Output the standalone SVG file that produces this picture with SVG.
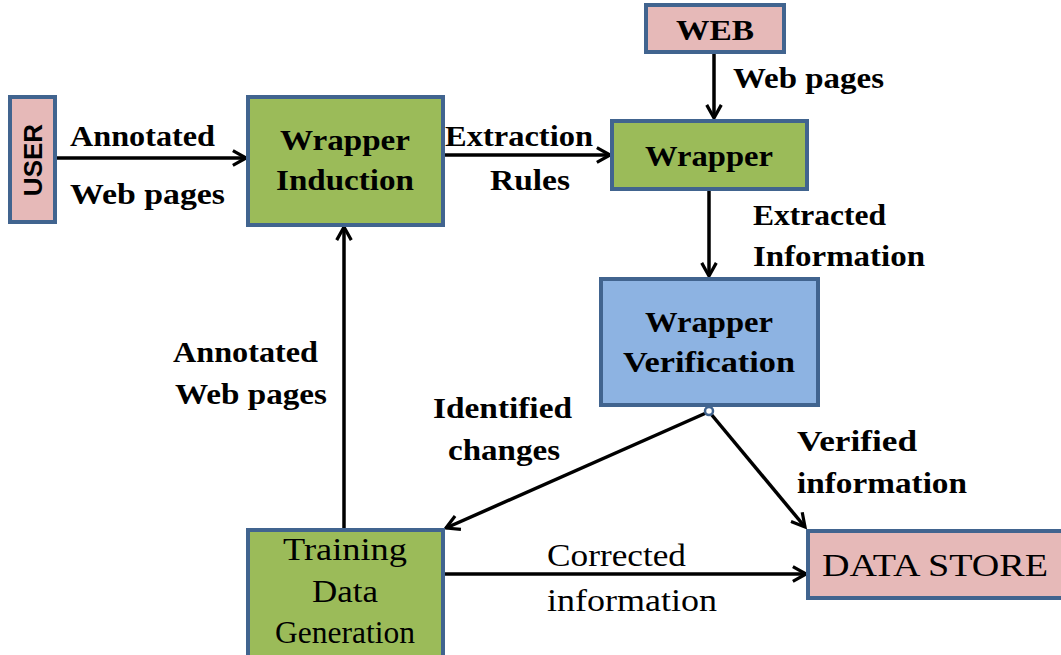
<svg xmlns="http://www.w3.org/2000/svg" width="1061" height="655" viewBox="0 0 1061 655">
<defs>
<style>
.box{stroke:#41648F;stroke-width:4}
.pink{fill:#E6B9B8}
.green{fill:#9BBB59}
.blue{fill:#8DB3E2}
.t{font-family:"Liberation Serif",serif;font-weight:bold;font-size:30px;fill:#000}
.tc{text-anchor:middle}
.n{font-weight:normal;font-size:32px}
.c{stroke:#000;stroke-width:3.5;fill:none;marker-end:url(#ah)}
</style>
<marker id="ah" viewBox="0 0 12 12" refX="10" refY="6" markerWidth="5" markerHeight="5" orient="auto" markerUnits="strokeWidth">
<path d="M1,1 L10,6 L1,11" fill="none" stroke="#000" stroke-width="2.2" stroke-linejoin="miter"/>
</marker>
</defs>
<rect width="1061" height="655" fill="#fff"/>
<g id="connectors">
<line class="c" x1="55" y1="158" x2="246" y2="158"/>
<line class="c" x1="443" y1="155" x2="610" y2="155"/>
<line class="c" x1="714" y1="52" x2="714" y2="118"/>
<line class="c" x1="709" y1="189" x2="709" y2="276"/>
<line class="c" x1="706" y1="413" x2="446" y2="528"/>
<line class="c" x1="711" y1="414" x2="805" y2="527"/>
<line class="c" x1="344" y1="529" x2="344" y2="227"/>
<line class="c" x1="443" y1="574" x2="806" y2="574"/>
<circle cx="709" cy="411" r="4" fill="#fff" stroke="#41648F" stroke-width="2.5"/>
</g>
<g id="user">
<rect class="box pink" x="10" y="97" width="45" height="125"/>
<text x="0" y="0" transform="translate(42,160) rotate(-90)" style="font-family:'Liberation Sans',sans-serif;font-weight:bold;font-size:26px;text-anchor:middle">USER</text>
</g>
<g id="wrapper-induction">
<rect class="box green" x="248" y="97" width="195" height="128"/>
<text class="t tc" x="345" y="150" textLength="130" lengthAdjust="spacingAndGlyphs">Wrapper</text>
<text class="t tc" x="345" y="190" textLength="138" lengthAdjust="spacingAndGlyphs">Induction</text>
</g>
<g id="web">
<rect class="box pink" x="646" y="5" width="138" height="47"/>
<text class="t tc" x="715" y="40" textLength="78" lengthAdjust="spacingAndGlyphs">WEB</text>
</g>
<g id="wrapper">
<rect class="box green" x="612" y="121" width="195" height="68"/>
<text class="t tc" x="709" y="166" textLength="128" lengthAdjust="spacingAndGlyphs">Wrapper</text>
</g>
<g id="wrapper-verification">
<rect class="box blue" x="601" y="279" width="217" height="126"/>
<text class="t tc" x="709" y="332" textLength="128" lengthAdjust="spacingAndGlyphs">Wrapper</text>
<text class="t tc" x="709" y="372" textLength="172" lengthAdjust="spacingAndGlyphs">Verification</text>
</g>
<g id="training-data-generation">
<rect class="box green" x="248" y="530" width="195" height="130"/>
<text class="t tc n" x="345" y="560" textLength="124" lengthAdjust="spacingAndGlyphs">Training</text>
<text class="t tc n" x="345" y="602" textLength="66" lengthAdjust="spacingAndGlyphs">Data</text>
<text class="t tc n" x="345" y="643" textLength="140" lengthAdjust="spacingAndGlyphs">Generation</text>
</g>
<g id="data-store">
<rect class="box pink" x="808" y="531" width="258" height="67"/>
<text class="t n" x="822" y="576" textLength="226" lengthAdjust="spacingAndGlyphs">DATA STORE</text>
</g>
<g id="labels">
<text class="t" x="70" y="146" textLength="145" lengthAdjust="spacingAndGlyphs">Annotated</text>
<text class="t" x="70" y="204" textLength="155" lengthAdjust="spacingAndGlyphs">Web pages</text>
<text class="t" x="445" y="146" textLength="148" lengthAdjust="spacingAndGlyphs">Extraction</text>
<text class="t" x="490" y="190" textLength="80" lengthAdjust="spacingAndGlyphs">Rules</text>
<text class="t" x="733" y="88" textLength="151" lengthAdjust="spacingAndGlyphs">Web pages</text>
<text class="t" x="753" y="225" textLength="133" lengthAdjust="spacingAndGlyphs">Extracted</text>
<text class="t" x="753" y="266" textLength="172" lengthAdjust="spacingAndGlyphs">Information</text>
<text class="t" x="173" y="362" textLength="145" lengthAdjust="spacingAndGlyphs">Annotated</text>
<text class="t" x="175" y="404" textLength="152" lengthAdjust="spacingAndGlyphs">Web pages</text>
<text class="t" x="433" y="418" textLength="139" lengthAdjust="spacingAndGlyphs">Identified</text>
<text class="t" x="448" y="460" textLength="112" lengthAdjust="spacingAndGlyphs">changes</text>
<text class="t" x="797" y="451" textLength="120" lengthAdjust="spacingAndGlyphs">Verified</text>
<text class="t" x="797" y="493" textLength="170" lengthAdjust="spacingAndGlyphs">information</text>
<text class="t n" x="547" y="566" textLength="139" lengthAdjust="spacingAndGlyphs">Corrected</text>
<text class="t n" x="547" y="611" textLength="170" lengthAdjust="spacingAndGlyphs">information</text>
</g>
</svg>
